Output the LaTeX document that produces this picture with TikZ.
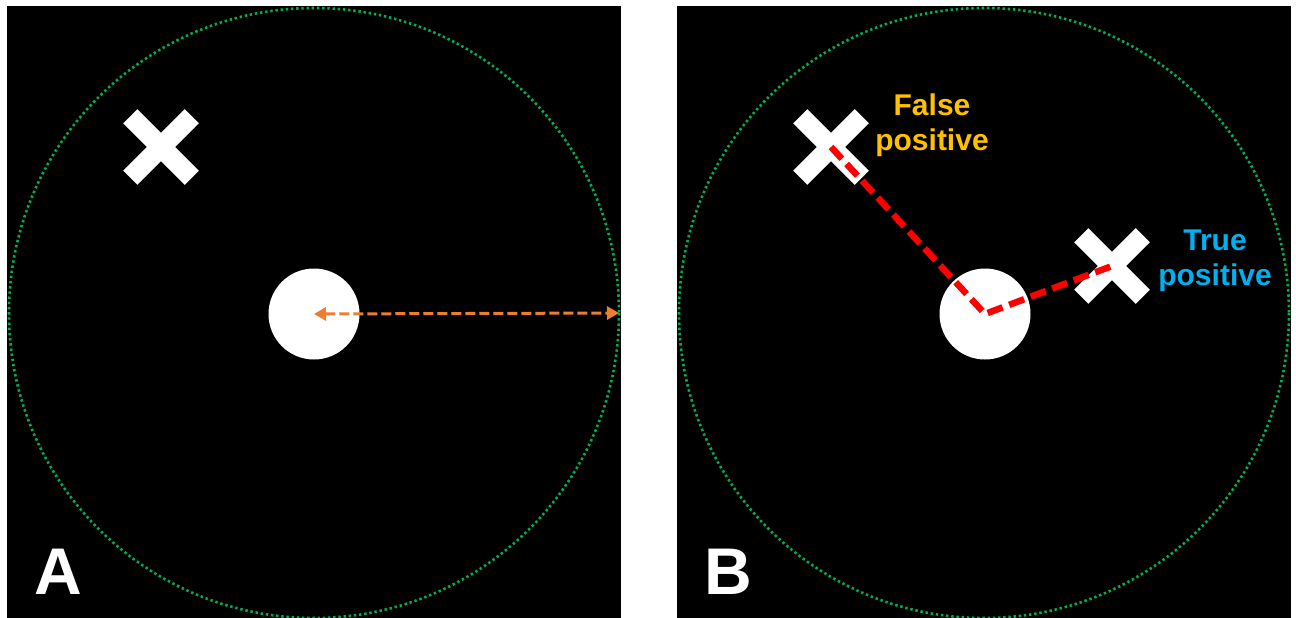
\documentclass[tikz,border=0pt]{standalone}
\usepackage{fontspec}
\setmainfont{Liberation Sans}
\usetikzlibrary{arrows.meta,shapes.misc}
\definecolor{ringgreen}{RGB}{0,176,80}
\definecolor{radorange}{RGB}{237,125,49}
\definecolor{fpgold}{RGB}{255,192,0}
\definecolor{tpblue}{RGB}{0,176,240}
\tikzset{
  panel/.style={fill=black, draw=none},
  ring/.style={draw=ringgreen, line width=2.6pt, dash pattern=on 2.4pt off 2.8pt},
  target/.style={circle, fill=white, draw=none, minimum size=91pt, inner sep=0pt},
  xmark/.style={cross out, draw=white, line width=20pt, minimum size=61.5pt, inner sep=0pt, outer sep=0pt},
  radius arrow/.style={draw=radorange, line width=3pt, dash pattern=on 10pt off 4pt,
    {Triangle[length=12pt,width=13pt]}-{Triangle[length=12pt,width=13pt]}},
  errline/.style={draw=red, line width=6.5pt, dash pattern=on 16pt off 7pt},
  tag/.style={font=\bfseries\fontsize{30}{35}\selectfont, align=center, inner sep=0pt},
  panelletter/.style={font=\bfseries\fontsize{66}{70}\selectfont, text=white, inner sep=0pt}
}
\begin{document}
\begin{tikzpicture}[x=1pt, y=-1pt]
  \useasboundingbox[fill=white] (0,0) rectangle (1296,618);

  % ---- panel A ----
  \fill[panel] (7,6.5) rectangle (621,618);
  \draw[ring] (314,313) circle (305);
  \node[target] (discA) at (314,314) {};
  \node[xmark] (markA) at (161,147) {};
  \coordinate (rimA) at (619,313);
  \draw[radius arrow] (discA.center) -- (rimA);
  \node[panelletter] (labA) at (58,572) {A};

  % ---- panel B ----
  \fill[panel] (677,6.5) rectangle (1291,618);
  \draw[ring] (984,313) circle (305);
  \node[target] (discB) at (985,314) {};
  \node[xmark] (fp) at (831,147) {};
  \node[xmark] (tp) at (1112,266) {};
  \draw[errline] (fp.center) -- (discB.center) -- (tp.center);
  \node[tag, text=fpgold] (fptext) at (932,125) {False\\positive};
  \node[tag, text=tpblue] (tptext) at (1215,261) {True\\positive};
  \node[panelletter] (labB) at (728,572) {B};
\end{tikzpicture}
\end{document}
